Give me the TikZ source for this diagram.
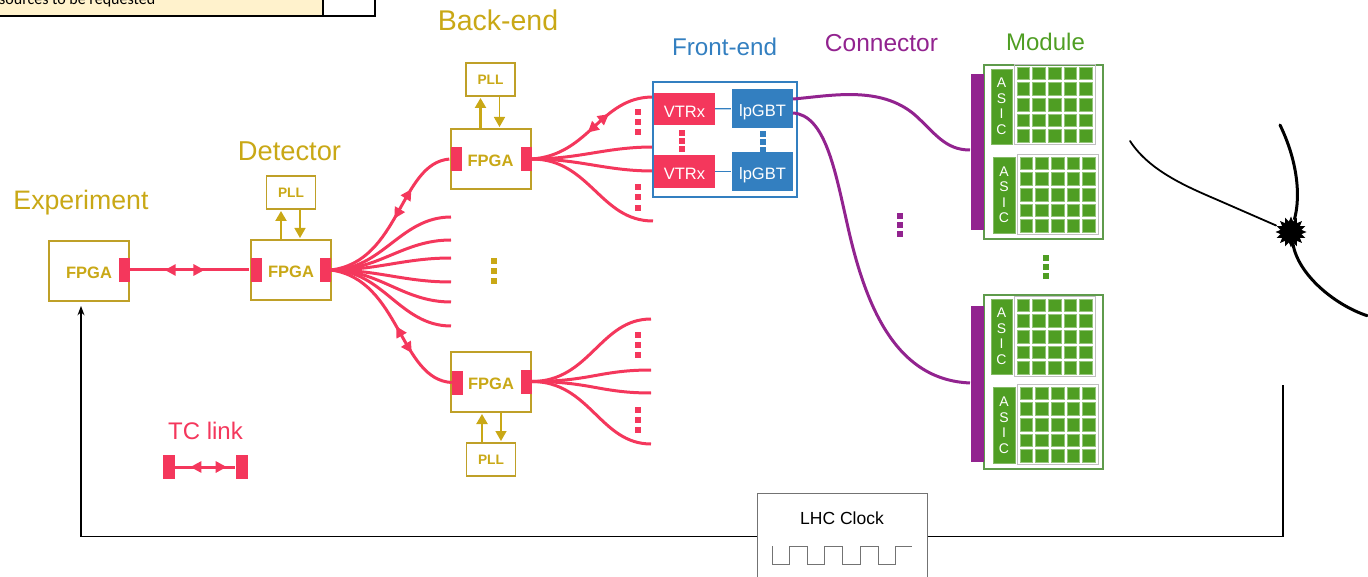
\documentclass[tikz,border=0pt]{standalone}
\usepackage{fontspec}
\setmainfont{Liberation Sans}
\newfontfamily\tablefont{Carlito}
\usetikzlibrary{arrows.meta,positioning,decorations.markings,shapes.geometric}

\definecolor{goldtext}{HTML}{C9A816}
\definecolor{goldline}{HTML}{BFA028}
\definecolor{tcred}{HTML}{F4375C}
\definecolor{feblue}{HTML}{337FC0}
\definecolor{conpurple}{HTML}{92238F}
\definecolor{modgreen}{HTML}{4F9E23}
\definecolor{modline}{HTML}{5F9B4C}
\definecolor{tablefill}{HTML}{FFF2CC}

\tikzset{
  title/.style={font=\fontsize{#1}{#1}\selectfont,inner sep=0},
  fpga/.style={draw=goldline,line width=2pt,fill=white,minimum width=80pt,minimum height=60pt,inner sep=0,
    text=goldtext,font=\fontsize{16.5}{16}\selectfont\bfseries,text height=14.5pt,text depth=0pt},
  pll/.style={draw=goldline,line width=1.8pt,fill=white,minimum width=49pt,minimum height=33pt,inner sep=0,
    text=goldtext,font=\fontsize{13.7}{14}\selectfont\bfseries},
  pad/.style={fill=tcred,minimum width=11pt,minimum height=24pt,inner sep=0},
  tclink/.style={draw=tcred,line width=3pt},
  tcarrows/.style 2 args={postaction={decorate,decoration={markings,
    mark=at position #1 with {\arrowreversed{Triangle[length=11pt,width=11pt]}},
    mark=at position #2 with {\arrow{Triangle[length=11pt,width=11pt]}}}}},
  pllarrow/.style={draw=goldtext,line width=1.5pt,-{Triangle[length=10pt,width=11pt]}},
  pllarrow up/.style={pllarrow,line width=2.2pt},
  dotsq/.style={fill=#1,minimum size=5.5pt,inner sep=0},
  febox/.style={fill=#1,inner sep=0,text=white,font=\fontsize{16.5}{17}\selectfont,text height=16.5pt,text depth=0pt},
  cell/.style={fill=modgreen,draw=modgreen!60!white,line width=.5pt,minimum size=12.5pt,inner sep=0},
  asic/.style={fill=modgreen,draw=modgreen!70!white,line width=.5pt,inner sep=0,text=white,align=center,
    font=\fontsize{14}{15.5}\selectfont},
  cellbox/.style={draw=black!25,line width=.8pt,minimum width=81pt,minimum height=80pt,inner sep=0},
  conline/.style={draw=conpurple,line width=3pt},
  module/.style={draw=modline,line width=1.8pt,minimum width=119pt,minimum height=174pt,inner sep=0},
  connbar/.style={fill=conpurple,minimum width=13pt,minimum height=156pt,inner sep=0},
  particle/.style={line width=3pt,line cap=round},
}

% three small squares in a column
\newcommand{\dotstack}[6]{%
  \foreach \k [count=\n] in {#4,#5,#6}
    \node[dotsq=#1] (#2\n) at (#3,\k) {};
}
% asic chip with its five by five pixels
\newcommand{\asicchip}[7]{%
  \node[asic,minimum width=#4pt,minimum height=#5pt] (#1) at (#2,#3) {A\\S\\I\\C};
  \node[cellbox] (#1grid) at ({#6+37.7},{#7+37.7}) {};
  \foreach \i in {0,...,4}
    \foreach \j in {0,...,4}
      \node[cell] (#1c\i\j) at ({#6+6.3+\i*15.67},{#7+6.3+\j*15.67}) {};
}

\begin{document}
\begin{tikzpicture}[x=1pt,y=-1pt,>=Stealth,shorten >=1pt]
  \useasboundingbox (0,0) rectangle (1368,577);

  % table corner at the top
  \fill[tablefill] (0,-6) rectangle (322,15);
  \draw[line width=2.5pt] (0,16) -- (375,16) -- (375,-6);
  \draw[line width=1.6pt] (323,-6) -- (323,16);
  \node[anchor=base west,inner sep=0,font=\tablefont\fontsize{16}{16}\selectfont] (tabletext) at (-1,5) {sources to be requested};

  % titles
  \node[title=26.7,text=goldtext] (experiment) at (81,203) {Experiment};
  \node[title=27.3,text=goldtext] (detector) at (289.5,151) {Detector};
  \node[title=28.5,text=goldtext] (backend) at (498,20) {Back-end};
  \node[title=24.2,text=feblue] (frontend) at (724.5,47) {Front-end};
  \node[title=24.5,text=conpurple] (connector) at (881.5,43) {Connector};
  \node[title=24,text=modgreen] (module) at (1045.5,42) {Module};
  \node[title=24,text=tcred] (tclabel) at (205.5,431) {TC link};

  % fpga and pll boxes
  \node[fpga] (fpgaexp) at (89,271) {FPGA};
  \node[fpga] (fpgadet) at (291,270) {FPGA};
  \node[fpga] (fpgatop) at (490.5,159) {FPGA};
  \node[fpga] (fpgabot) at (491,382) {FPGA};
  \node[pll] (plldet) [above=29pt of fpgadet] {PLL};
  \node[pll] (plltop) [above=31pt of fpgatop] {PLL};
  \node[pll] (pllbot) [below=29pt of fpgabot] {PLL};

  \path
  ([xshift=-10pt]fpgadet.north) edge[pllarrow up] ([xshift=-10pt]plldet.south)
  ([xshift=9pt]plldet.south) edge[pllarrow] ([xshift=9pt]fpgadet.north)
  ([xshift=-10pt]fpgatop.north) edge[pllarrow up] ([xshift=-10pt]plltop.south)
  ([xshift=9pt]plltop.south) edge[pllarrow] ([xshift=9pt]fpgatop.north)
  ([xshift=-9pt]pllbot.north) edge[pllarrow up] ([xshift=-9pt]fpgabot.south)
  ([xshift=10pt]fpgabot.south) edge[pllarrow] ([xshift=10pt]pllbot.north)
  ;

  % pads
  \node[pad] (padexp) at (124,270) {};
  \node[pad] (padl) at (256,270) {};
  \node[pad] (padr) at (325,270) {};
  \node[pad] (padtl) at (456,159) {};
  \node[pad] (padtr) at (526,159) {};
  \node[pad] (padbl) at (457.5,382.5) {};
  \node[pad] (padbr) at (526,381.5) {};

  % tc links
  \draw[tclink,tcarrows={.29}{.62}] (padexp.east) -- (padl.west);
  \draw[tclink,tcarrows={.50}{.70}] (padr.east) .. controls (400,262) and (400,163) .. (padtl.west);
  \draw[tclink,tcarrows={.30}{.48}] (padbl.west) .. controls (400,380) and (400,280) .. (padr.east);
  \foreach \y in {217,240,258,282,302,326} {
    \coordinate (fan\y) at (452,\y);
    \draw[tclink] (padr.east) to[out=0,in=180] (fan\y);
  }

  \coordinate (fetop) at (654,97);
  \coordinate (febot) at (654,221);
  \draw[tclink,tcarrows={.45}{.65}] (padtr.east) .. controls (590,155) and (600,97) .. (fetop);
  \draw[tclink] (padtr.east) .. controls (590,159) and (600,221) .. (febot);
  \foreach \y in {147,171} {
    \coordinate (fe\y) at (654,\y);
    \draw[tclink] (padtr.east) to[out=0,in=180] (fe\y);
  }
  \foreach \y in {319,370,393,444} {
    \coordinate (low\y) at (652,\y);
    \draw[tclink] (padbr.east) .. controls (590,381.5) and (600,\y) .. (low\y);
  }

  \dotstack{tcred}{dotsa}{638}{112}{122}{132}
  \dotstack{tcred}{dotsb}{638}{187}{197}{208}
  \dotstack{tcred}{dotsc}{638}{335}{345}{355}
  \dotstack{tcred}{dotsd}{638}{410}{420}{430}
  \dotstack{goldtext}{dotse}{494}{261}{271}{281}
  \dotstack{conpurple}{dotsf}{900}{216}{225}{234}
  \dotstack{modgreen}{dotsg}{1046}{258}{267}{276}

  % front-end
  \node[draw=feblue,line width=1.6pt,minimum width=144pt,minimum height=115pt,inner sep=0] (febox) at (725,139.5) {};
  \node[febox=tcred,minimum width=61pt,minimum height=32pt] (vtrxa) at (684.5,109) {VTRx};
  \node[febox=tcred,minimum width=61pt,minimum height=33pt] (vtrxb) at (684.5,171.5) {VTRx};
  \node[febox=feblue,minimum width=61pt,minimum height=39pt] (lpgbta) at (762.5,108.5) {lpGBT};
  \node[febox=feblue,minimum width=61pt,minimum height=39pt] (lpgbtb) at (762.5,171.5) {lpGBT};
  \path[draw=feblue,line width=1.3pt]
  (vtrxa) edge (lpgbta)
  (vtrxb) edge (lpgbtb)
  ;
  \dotstack{tcred}{dotsh}{682}{133}{141}{149}
  \dotstack{feblue}{dotsi}{763}{134}{142}{149.5}

  % modules
  \node[module] (modulea) at (1043.5,152) {};
  \node[module] (moduleb) at (1043.5,382) {};
  \node[connbar] (bara) at (977.5,152) {};
  \node[connbar] (barb) at (977.5,384) {};
  \asicchip{asica}{1001.5}{106.5}{21}{75}{1017}{67}
  \asicchip{asicb}{1004}{195}{22}{76}{1020}{157}
  \asicchip{asicc}{1001.5}{336.5}{21}{75}{1017}{299}
  \asicchip{asicd}{1004}{425.5}{22}{76}{1020}{387}

  % connectors
  \coordinate (cona) at (793,99);
  \coordinate (conb) at (793,113);
  \coordinate (bara in) at (971,150);
  \coordinate (barb in) at (971,383);
  \draw[conline] (cona) .. controls (830,96) and (880,85) .. (915,115) .. controls (935,133) and (945,150) .. (bara in);
  \draw[conline] (conb) .. controls (825,115) and (835,170) .. (847,223) .. controls (865,305) and (895,380) .. (barb in);

  % collision
  \node[star,star points=16,star point ratio=1.45,fill=black,minimum size=31pt,inner sep=0] (vertex) at (1291,232) {};
  \coordinate (parta) at (1130,141);
  \coordinate (partb) at (1280,125);
  \coordinate (partc) at (1368,316);
  \draw[line width=1.8pt,line cap=round] (parta) .. controls (1150,172) and (1190,188) .. (1220,201) -- (vertex);
  \draw[particle] (partb) .. controls (1297,160) and (1301,195) .. (vertex);
  \draw[particle] (vertex) .. controls (1298,275) and (1335,305) .. (partc);

  % clock
  \node[draw=black!55,line width=1pt,minimum width=170pt,minimum height=87pt,inner sep=0] (clockbox) at (842,536.5) {};
  \node[title=17.5] (clocktext) at (842,518) {LHC Clock};
  \draw[black!55,line width=1pt,shorten >=0pt] (772,546) |- (789,564) |- (807,546) |- (824,564) |- (842,546) |- (860,564) |- (878,546) |- (895,564) |- (912,546);
  \coordinate (clkend) at (1283,385);
  \coordinate (clkin) at (81,306);
  \draw[line width=1.4pt,shorten >=0pt] (clockbox.east) -| (clkend);
  \draw[line width=1.4pt,->,shorten >=0pt] (clockbox.west) -| (clkin);

  % legend
  \node[pad,minimum width=12pt] (legl) at (169,467) {};
  \node[pad,minimum width=12pt] (legr) at (242,467) {};
  \draw[tclink,tcarrows={.25}{.85}] (legl.east) -- (legr.west);
\end{tikzpicture}
\end{document}
